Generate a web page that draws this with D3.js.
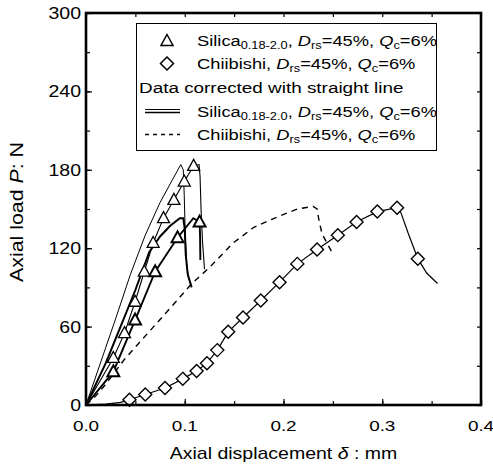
<!DOCTYPE html>
<html><head><meta charset="utf-8">
<script src="https://cdn.jsdelivr.net/npm/d3@7"></script>
<style>body{margin:0;background:#fff}svg{display:block}</style>
</head><body><svg id="c" width="493" height="467"></svg>
<script>
// ---- data (x: axial displacement mm, y: axial load N) ----
const xTicks = [0, 0.1, 0.2, 0.3, 0.4];
const xTickLabels = ["0.0", "0.1", "0.2", "0.3", "0.4"];
const yTicks = [0, 60, 120, 180, 240, 300];
const yTickLabels = ["0", "60", "120", "180", "240", "300"];

// Silica measured, specimen A (triangles)
const silicaA_marks = [[0.0277,36],[0.039,55],[0.0497,79],[0.059,102],[0.068,124],[0.0785,143],[0.089,157],[0.0995,171],[0.109,183]];
const silicaA_line = [[0,0],[0.0277,36],[0.039,55],[0.0497,79],[0.059,102],[0.068,124],[0.0785,143],[0.089,157],[0.0995,171],[0.109,183],[0.1145,184],[0.1155,175],[0.1165,150],[0.118,125],[0.12,104]];
// Silica measured, specimen B (triangles)
const silicaB_marks = [[0.0277,25.5],[0.0497,65],[0.070,102],[0.0927,128],[0.115,140]];
const silicaB_line = [[0,0],[0.0277,25.5],[0.0497,65],[0.070,102],[0.0927,128],[0.1087,143],[0.115,140],[0.1155,130],[0.1158,111]];
// Silica corrected with straight line (two specimens)
const silicaCorrA = [[0,0],[0.015,33],[0.03,66],[0.045,100],[0.06,130],[0.075,155],[0.088,173],[0.096,184],[0.0985,180],[0.0995,160],[0.1005,130],[0.102,108],[0.104,96]];
const silicaCorrB = [[0,0],[0.02,32],[0.035,60],[0.05,88],[0.064,117],[0.075,129],[0.085,137],[0.095,143],[0.0985,143],[0.1,135],[0.101,115],[0.103,100],[0.107,90]];
// Chiibishi measured (diamonds)
const chii_marks = [[0.044,4],[0.060,8],[0.080,13],[0.098,20],[0.112,26],[0.1225,32],[0.133,42],[0.144,56],[0.159,67],[0.177,80],[0.196,94],[0.214,108],[0.234,119],[0.255,130],[0.274,140],[0.295,148],[0.315,151],[0.336,112]];
const chii_line = [[0,0],[0.02,0.7],[0.035,2],[0.044,4],[0.060,8],[0.080,13],[0.098,20],[0.112,26],[0.1225,32],[0.133,42],[0.144,56],[0.159,67],[0.177,80],[0.196,94],[0.214,108],[0.234,119],[0.255,130],[0.274,140],[0.295,148],[0.315,151],[0.319,147],[0.326,132],[0.336,112],[0.345,101],[0.356,93]];
// Chiibishi corrected with straight line (dashed)
const chiiCorr = [[0,0],[0.01,7],[0.02,16],[0.039,35],[0.065,57],[0.091,79],[0.106,92],[0.126,106],[0.149,124],[0.170,136],[0.194,144],[0.214,150],[0.230,152],[0.234,150],[0.236,141],[0.239,131],[0.244,124],[0.249,117]];

// ---- layout ----
const SX = 1.22; // horizontal stretch of the original lettering
const FONT = "'Liberation Sans', Arial, Helvetica, sans-serif";
const svg = d3.select("#c");
const L = 86, R = 481, T = 13, B = 405;
const x = d3.scaleLinear().domain([0, 0.4]).range([L, R]);
const y = d3.scaleLinear().domain([0, 300]).range([B, T]);

function txt(parent, px, py, anchor, size, rot) {
  return parent.append("text")
    .attr("transform", `translate(${px},${py})` + (rot ? ` rotate(${rot})` : "") + ` scale(${SX},1)`)
    .attr("text-anchor", anchor)
    .attr("font-family", FONT)
    .attr("font-size", size)
    .attr("fill", "#000");
}

// axes (ticks inward on all four sides)
const minorX = d3.range(0, 0.4001, 0.05);
const minorY = d3.range(0, 300.1, 30);
const axB = d3.axisBottom(x).tickValues(minorX).tickSizeInner(-4).tickSizeOuter(0).tickFormat("");
const axT = d3.axisTop(x).tickValues(minorX).tickSizeInner(-4).tickSizeOuter(0).tickFormat("");
const axLf = d3.axisLeft(y).tickValues(minorY).tickSizeInner(-4).tickSizeOuter(0).tickFormat("");
const axRt = d3.axisRight(y).tickValues(minorY).tickSizeInner(-4).tickSizeOuter(0).tickFormat("");
const axB2 = d3.axisBottom(x).tickValues(xTicks).tickSizeInner(-6).tickSizeOuter(0).tickFormat("");
const axL2 = d3.axisLeft(y).tickValues(yTicks).tickSizeInner(-6).tickSizeOuter(0).tickFormat("");
[[axB,`0,${B}`],[axT,`0,${T}`],[axLf,`${L},0`],[axRt,`${R},0`],[axB2,`0,${B}`],[axL2,`${L},0`]].forEach(([a,t])=>{
  const g = svg.append("g").attr("transform",`translate(${t})`).call(a);
  g.select(".domain").remove();
  g.selectAll("line").attr("stroke","#000").attr("stroke-width",1.2);
});

// tick labels
xTicks.forEach((v,i)=>{ txt(svg, x(v), 431, "middle", 15.5).text(xTickLabels[i]); });
yTicks.forEach((v,i)=>{ txt(svg, 81, y(v)+6, "end", 16).text(yTickLabels[i]); });

// axis titles
const xt = txt(svg, (L+R)/2, 459, "middle", 16);
xt.append("tspan").text("Axial displacement ");
xt.append("tspan").attr("font-style","italic").text("δ");
xt.append("tspan").text(" : mm");
const yt = txt(svg, 23, (T+B)/2 + 3, "middle", 17.5, -90);
yt.append("tspan").text("Axial load ");
yt.append("tspan").attr("font-style","italic").text("P");
yt.append("tspan").text(": N");

// data lines
const line = d3.line().x(d=>x(d[0])).y(d=>y(d[1]));
const plot = svg.append("g");
plot.append("path").datum(chiiCorr).attr("d",line).attr("fill","none").attr("stroke","#000").attr("stroke-width",1.4).attr("stroke-dasharray","6,5");
plot.append("path").datum(silicaCorrA).attr("d",line).attr("fill","none").attr("stroke","#000").attr("stroke-width",1);
plot.append("path").datum(silicaCorrB).attr("d",line).attr("fill","none").attr("stroke","#000").attr("stroke-width",2);
plot.append("path").datum(silicaA_line).attr("d",line).attr("fill","none").attr("stroke","#000").attr("stroke-width",1.1);
plot.append("path").datum(silicaB_line).attr("d",line).attr("fill","none").attr("stroke","#000").attr("stroke-width",1.9);
plot.append("path").datum(chii_line).attr("d",line).attr("fill","none").attr("stroke","#000").attr("stroke-width",1.2);

// markers
const triPath = "M0,-6.5L6,4.5L-6,4.5Z";
const diaPath = "M0,-6.5L6.5,0L0,6.5L-6.5,0Z";
function marks(data, p, sw) {
  plot.append("g").selectAll("path").data(data).join("path")
    .attr("d", p).attr("transform", d=>`translate(${x(d[0])},${y(d[1])})`)
    .attr("fill","#fff").attr("stroke","#000").attr("stroke-width",sw);
}
marks(silicaA_marks, triPath, 1.3);
marks(silicaB_marks, triPath, 1.9);
marks(chii_marks, diaPath, 1.4);

// legend
const lg = svg.append("g");
lg.append("rect").attr("x",136.5).attr("y",23.5).attr("width",300).attr("height",127).attr("fill","#fff").attr("stroke","#000").attr("stroke-width",1);
const rows = [40, 63.5, 87, 111, 134.5];
lg.append("path").attr("d",triPath).attr("transform",`translate(167,${rows[0]+1})`).attr("fill","#fff").attr("stroke","#000").attr("stroke-width",1.5);
lg.append("path").attr("d",diaPath).attr("transform",`translate(167,${rows[1]})`).attr("fill","#fff").attr("stroke","#000").attr("stroke-width",1.5);
lg.append("line").attr("x1",145).attr("x2",180).attr("y1",rows[3]-1.5).attr("y2",rows[3]-1.5).attr("stroke","#000").attr("stroke-width",1);
lg.append("line").attr("x1",145).attr("x2",180).attr("y1",rows[3]+1.5).attr("y2",rows[3]+1.5).attr("stroke","#000").attr("stroke-width",1.6);
lg.append("line").attr("x1",145).attr("x2",180).attr("y1",rows[4]).attr("y2",rows[4]).attr("stroke","#000").attr("stroke-width",1.4).attr("stroke-dasharray","4,4");

function specText(parent, px, py, name, sub) {
  const t = txt(parent, px, py, "start", 15);
  t.append("tspan").text(name);
  if (sub) t.append("tspan").attr("font-size",10.5).attr("dy",3).text(sub);
  t.append("tspan").attr("dy", sub ? -3 : 0).text(", ");
  t.append("tspan").attr("font-style","italic").text("D");
  t.append("tspan").attr("font-size",10.5).attr("dy",3).text("rs");
  t.append("tspan").attr("dy",-3).text("=45%, ");
  t.append("tspan").attr("font-style","italic").text("Q");
  t.append("tspan").attr("font-size",10.5).attr("dy",3).text("c");
  t.append("tspan").attr("dy",-3).text("=6%");
}
specText(lg, 197, rows[0]+5.5, "Silica", "0.18-2.0");
specText(lg, 197, rows[1]+5.5, "Chiibishi", null);
txt(lg, 139, rows[2]+5.5, "start", 15.5).text("Data corrected with straight line");
specText(lg, 197, rows[3]+5.5, "Silica", "0.18-2.0");
specText(lg, 197, rows[4]+5.5, "Chiibishi", null);

// frame
svg.append("rect").attr("x",L).attr("y",T).attr("width",R-L).attr("height",B-T).attr("fill","none").attr("stroke","#000").attr("stroke-width",2.6);
</script>
</body></html>
